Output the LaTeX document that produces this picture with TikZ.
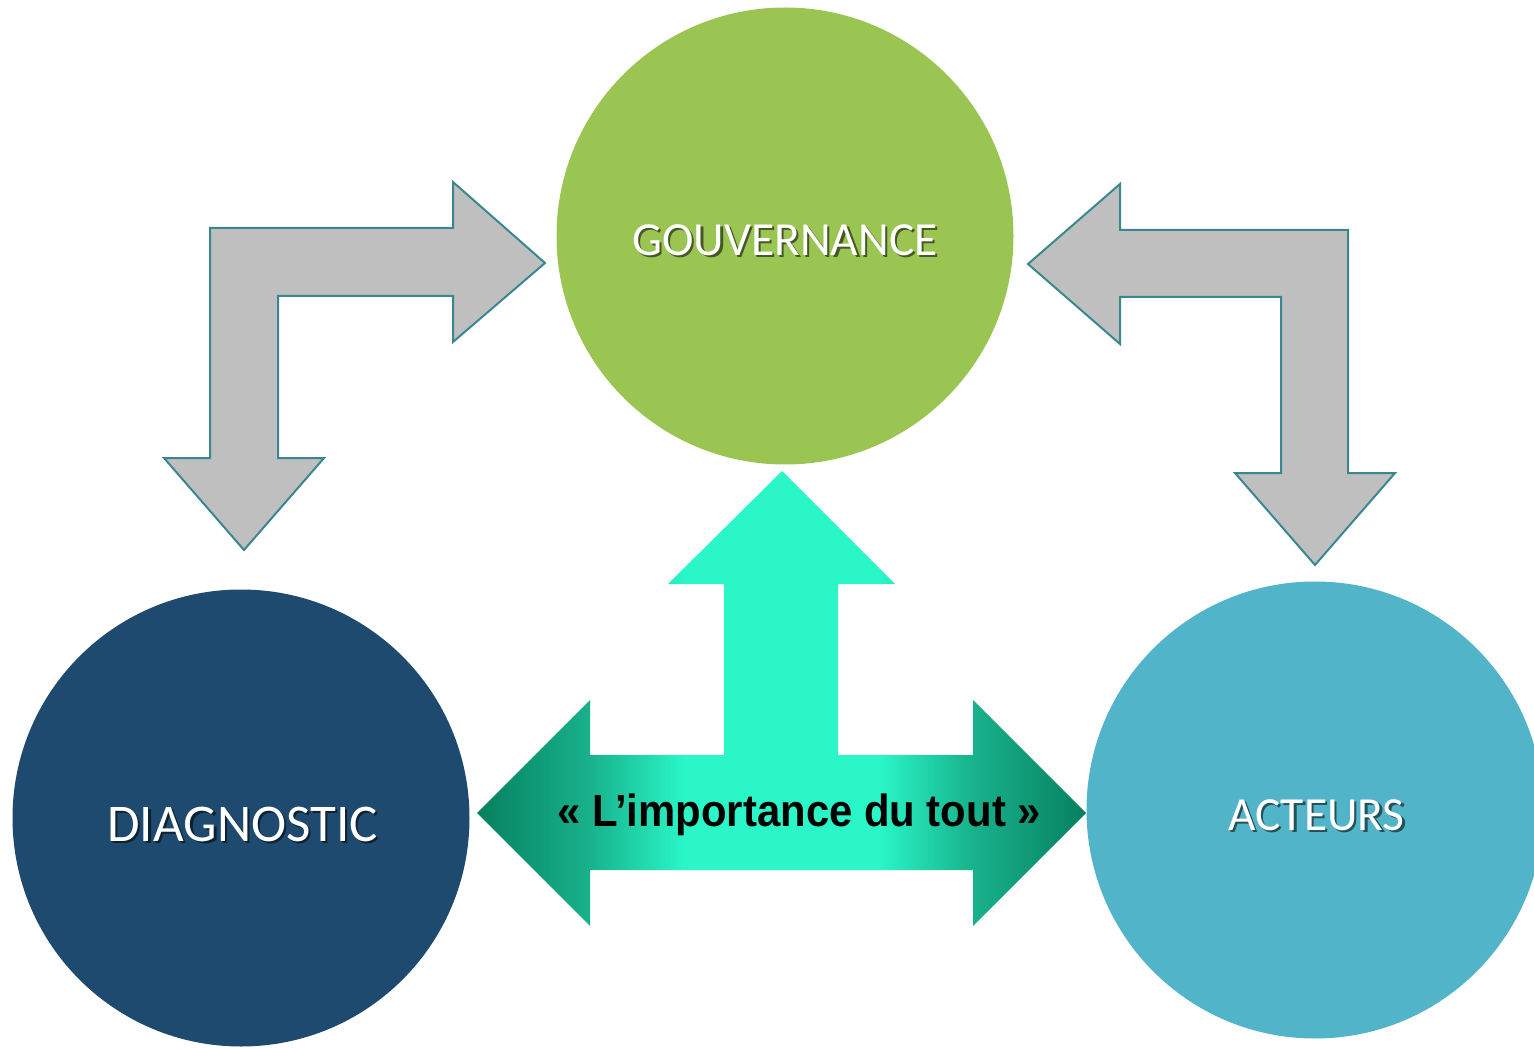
\documentclass[tikz,border=0pt]{standalone}
\usepackage{fontspec}
\setmainfont{Carlito}
\newfontfamily\arialfont{Liberation Sans}
\definecolor{gouvgreen}{HTML}{9BC553}
\definecolor{diagblue}{HTML}{1D4A6E}
\definecolor{actblue}{HTML}{51B4C8}
\definecolor{arrowgray}{HTML}{BFBFBF}
\definecolor{arrowedge}{HTML}{3B8790}
\definecolor{tdark}{HTML}{06805F}
\definecolor{tmid}{HTML}{18B28C}
\definecolor{tbright}{HTML}{2AF6C7}
\pgfdeclarehorizontalshading{tealgrad}{100bp}{color(0bp)=(tdark); color(25bp)=(tdark); color(34.3bp)=(tmid); color(42bp)=(tbright); color(58bp)=(tbright); color(65.7bp)=(tmid); color(75bp)=(tdark); color(100bp)=(tdark)}
\tikzset{
  bubble/.style={circle, minimum size=457pt, inner sep=0pt, draw=none},
  bentarrow/.style={fill=arrowgray, draw=arrowedge, line width=2pt, line join=miter},
  shadowtext/.style={text=black, opacity=0.55, inner sep=0pt, anchor=center},
  whitetext/.style={text=white, inner sep=0pt, anchor=center},
}
\begin{document}
\begin{tikzpicture}[x=1pt, y=-1pt]
\useasboundingbox (0,0) rectangle (1534,1048);
% circles
\node[bubble, fill=gouvgreen] (gouv) at (785,236) {};
\node[bubble, fill=diagblue] (diag) at (241,818) {};
\node[bubble, fill=actblue] (act) at (1315,810) {};
% labels with shadow
\node[shadowtext, font=\fontsize{47.5}{50}\selectfont] (gouvs) at (787.5,242.5) {GOUVERNANCE};
\node[whitetext, font=\fontsize{47.5}{50}\selectfont] (gouvt) at (785,240) {GOUVERNANCE};
\node[shadowtext, font=\fontsize{53}{56}\selectfont] (diags) at (245,826.5) {DIAGNOSTIC};
\node[whitetext, font=\fontsize{53}{56}\selectfont] (diagt) at (242.5,824) {DIAGNOSTIC};
\node[shadowtext, font=\fontsize{47.5}{50}\selectfont] (acts) at (1319,817.5) {ACTEURS};
\node[whitetext, font=\fontsize{47.5}{50}\selectfont] (actt) at (1316.5,815) {ACTEURS};
% left bent arrow
\draw[bentarrow] (210,228) -- (453,228) -- (453,182) -- (545,263) -- (453,342) -- (453,296) -- (278,296) -- (278,458) -- (324,458) -- (244,550) -- (164,458) -- (210,458) -- cycle;
% right bent arrow
\draw[bentarrow] (1348,230) -- (1120,230) -- (1120,184) -- (1028,264) -- (1120,344) -- (1120,297) -- (1281,297) -- (1281,473) -- (1235,473) -- (1315,565) -- (1395,473) -- (1348,473) -- cycle;
% central T arrow
\shade[shading=tealgrad] (782,471) -- (895,584) -- (838,584) -- (838,755) -- (973,755) -- (973,700) -- (1086,813) -- (973,926) -- (973,870) -- (590,870) -- (590,926) -- (477,813) -- (590,700) -- (590,755) -- (724,755) -- (724,584) -- (668,584) -- cycle;
\node[inner sep=0pt, font=\arialfont\bfseries\fontsize{45}{48}\selectfont] (tout) at (799,815) {\scalebox{0.93}[1]{« L’importance du tout »}};
\end{tikzpicture}
\end{document}
